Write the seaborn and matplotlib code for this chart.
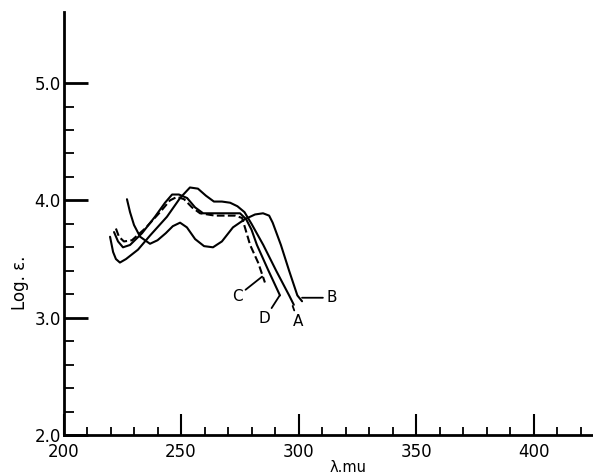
import matplotlib
matplotlib.use("Agg")
import matplotlib.pyplot as plt
import numpy as np
import pandas as pd
import seaborn as sns

# absorption curves (wavelength in m-mu, log epsilon)
a_wl = [219.8, 221.1, 222.3, 224.0, 226.6, 231.7, 236.8, 244.0, 249.6, 253.8, 257.2,
        260.6, 264.0, 267.4, 270.9, 274.0, 277.0, 280.0, 285.0, 290.5, 296.0, 298.0]
a_loge = [3.69, 3.56, 3.50, 3.47, 3.50, 3.58, 3.70, 3.86, 4.02, 4.11, 4.10,
          4.04, 3.99, 3.99, 3.98, 3.95, 3.90, 3.80, 3.62, 3.40, 3.19, 3.11]

b_wl = [227.0, 228.3, 230.0, 232.6, 236.8, 240.0, 243.5, 246.5, 249.6, 252.5, 256.0, 259.8,
        263.6, 267.4, 272.1, 277.2, 281.5, 284.9, 287.5, 289.0, 292.5, 296.0, 299.5, 301.5]
b_loge = [4.01, 3.90, 3.79, 3.69, 3.63, 3.66, 3.72, 3.78, 3.81, 3.77, 3.67, 3.61,
          3.60, 3.65, 3.77, 3.84, 3.88, 3.89, 3.87, 3.81, 3.62, 3.40, 3.19, 3.14]

c_wl = [222.3, 223.6, 225.7, 229.1, 234.7, 241.1, 245.3, 248.3, 251.3, 254.7, 258.1,
        264.5, 273.0, 276.0, 279.4, 282.8, 285.7]
c_loge = [3.76, 3.69, 3.65, 3.66, 3.76, 3.90, 4.00, 4.03, 4.01, 3.94, 3.89,
          3.87, 3.87, 3.85, 3.62, 3.47, 3.30]

d_wl = [221.5, 223.2, 225.3, 228.3, 233.4, 238.9, 243.2, 246.2, 249.1, 252.6, 256.0,
        259.4, 264.5, 270.9, 275.1, 277.7, 280.0, 282.3, 287.0, 292.1]
d_loge = [3.73, 3.65, 3.60, 3.62, 3.72, 3.86, 3.98, 4.05, 4.05, 4.02, 3.94,
          3.89, 3.89, 3.89, 3.89, 3.84, 3.75, 3.62, 3.41, 3.19]

# curve labels: name, label position, point the leader line goes to
label_names = ["A", "B", "C", "D"]
label_text_pos = [(299.8, 2.97), (314.0, 3.17), (273.8, 3.18), (285.6, 2.99)]
label_line_end = [(297.5, 3.10), (301.5, 3.17), (284.5, 3.35), (292.0, 3.19)]

x_major = [200, 250, 300, 350, 400]
y_major = [2.0, 3.0, 4.0, 5.0]

curves = pd.concat([
    pd.DataFrame({"wl": a_wl, "loge": a_loge, "curve": "A"}),
    pd.DataFrame({"wl": b_wl, "loge": b_loge, "curve": "B"}),
    pd.DataFrame({"wl": c_wl, "loge": c_loge, "curve": "C"}),
    pd.DataFrame({"wl": d_wl, "loge": d_loge, "curve": "D"}),
], ignore_index=True)

sns.set_style("ticks", {"axes.edgecolor": "black", "xtick.color": "black",
                        "ytick.color": "black", "text.color": "black",
                        "axes.labelcolor": "black"})
plt.rcParams["font.family"] = ["DejaVu Sans"]

fig = plt.figure(figsize=(5.93, 4.74), dpi=100)
ax = fig.add_axes([0.1071, 0.0823, 0.8929, 0.8924])

for name, grp in curves.groupby("curve"):
    sns.lineplot(data=grp, x="wl", y="loge", ax=ax, sort=False, color="black",
                 linewidth=1.5, linestyle="--" if name == "C" else "-",
                 legend=False)

for name, txt, end in zip(label_names, label_text_pos, label_line_end):
    ax.annotate(name, xy=end, xytext=txt, ha="center", va="center", fontsize=11,
                arrowprops=dict(arrowstyle="-", color="black", lw=1.3,
                                shrinkA=0, shrinkB=0))

ax.set_xlim(200, 425.3)
ax.set_ylim(2.0, 5.606)
ax.set_xticks(x_major)
ax.set_xticks([v for v in range(210, 430, 10) if v not in x_major], minor=True)
ax.set_yticks(y_major)
ax.set_yticks([v for v in np.arange(2.2, 5.0, 0.2) if round(v, 1) not in y_major], minor=True)
ax.set_yticklabels([f"{v:.1f}" for v in y_major])

ax.tick_params(axis="x", which="major", direction="in", length=15, width=1.5,
               pad=6, labelsize=12, bottom=True)
ax.tick_params(axis="x", which="minor", direction="in", length=6, width=1.3, bottom=True)
ax.tick_params(axis="y", which="major", direction="in", length=17, width=2,
               pad=2, labelsize=12, left=True)
ax.tick_params(axis="y", which="minor", direction="in", length=7, width=1.3, left=True)

sns.despine(ax=ax)
for side in ["left", "bottom"]:
    ax.spines[side].set_linewidth(2)
    ax.spines[side].set_color("black")

ax.set_xlabel("λ.mu", fontsize=10.5)
ax.xaxis.set_label_coords(0.537, -0.058)
ax.set_ylabel("Log. ε.", fontsize=12)
ax.yaxis.set_label_coords(-0.066, 0.36)

fig.savefig("out.png", dpi=100)
